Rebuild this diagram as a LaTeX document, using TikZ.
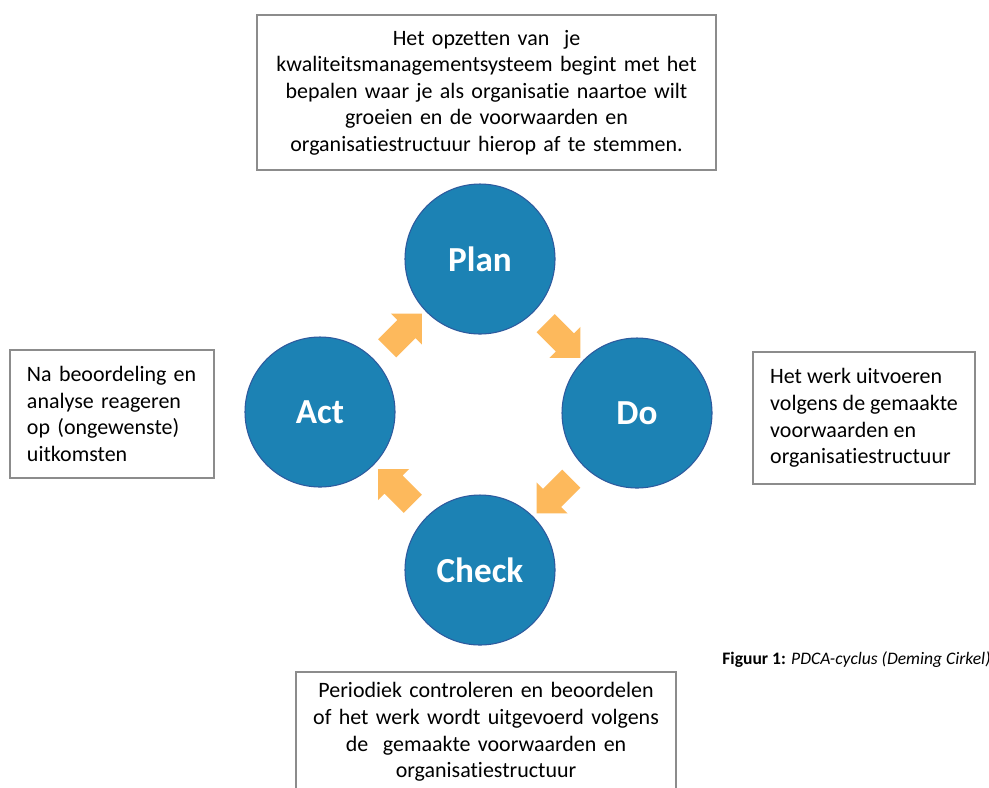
\documentclass[tikz,border=0pt]{standalone}
\usepackage{fontspec}
\setmainfont{Carlito}[Ligatures=NoCommon]
\usepackage{tikz}
\usetikzlibrary{%
	calc,%
	shapes.arrows%
}

\definecolor{phaseblue}{RGB}{28,130,180}
\definecolor{phaseedge}{RGB}{45,90,158}
\definecolor{arrowgold}{RGB}{253,185,92}
\definecolor{boxgray}{RGB}{140,140,140}

\tikzset{
	phase/.style={circle, fill=phaseblue, draw=phaseedge, line width=0.6pt,
		minimum size=30mm, inner sep=0pt, text=white,
		font=\fontsize{20}{24}\selectfont\bfseries},
	cycarrow/.style={single arrow, fill=arrowgold, draw=none,
		minimum height=9.8mm, inner sep=2.5mm,
		single arrow head extend=1.8mm, single arrow head indent=0mm},
	infobox/.style={draw=boxgray, line width=0.6pt, inner sep=0pt,
		font=\fontsize{12.5}{15.1}\selectfont}
}

\begin{document}
\begin{tikzpicture}[x=0.2mm,y=-0.2mm]
				% Frame
				\clip (0,0) rectangle (989,787);
				\fill[white] (0,0) rectangle (989,787);
				
				% Phases
				\node[phase] (plan) at (480,259) {Plan};
				\node[phase] (do) at (637,413) {Do};
				\node[phase] (check) at (480,570) {Check};
				\node[phase] (act) at (320,412) {Act};
				
				% Arrows between phases
				\foreach \from/\to/\ang in {plan/do/-45,do/check/-135,check/act/135,act/plan/45}
				\node[cycarrow, rotate=\ang] (arr-\from) at ($(\from)!0.5!(\to)$) {};
				
				% Explanations
				\node[infobox, minimum width=91.8mm, minimum height=31mm,
					text width=88mm, align=center] (plantext) at (486.5,92.5)
					{Het opzetten van~ je\\ kwaliteitsmanagementsysteem begint met het\\ bepalen waar je als organisatie naartoe wilt\\ groeien en de voorwaarden en\\ organisatiestructuur hierop af te stemmen.};
				\node[infobox, minimum width=40.8mm, minimum height=25.6mm,
					text width=34mm, align=left] (acttext) at (112,414)
					{Na beoordeling en\\ analyse reageren\\ op (ongewenste)\\ uitkomsten};
				\node[infobox, minimum width=44.4mm, minimum height=26.4mm,
					align=left] (dotext) at (864,418)
					{Het werk uitvoeren\\ volgens de gemaakte\\ voorwaarden en\\ organisatiestructuur};
				\node[infobox, minimum width=76mm, minimum height=24mm,
					text width=74mm, align=center] (checktext) at (486,732)
					{Periodiek controleren en beoordelen\\ of het werk wordt uitgevoerd volgens\\ de~ gemaakte voorwaarden en\\ organisatiestructuur};
				
				% Caption
				\node[anchor=west, inner sep=0pt, font=\fontsize{10}{12}\selectfont] (caption) at (722,660)
					{\textbf{Figuur 1:} \textit{PDCA-cyclus (Deming Cirkel)}};
			\end{tikzpicture}
\end{document}
